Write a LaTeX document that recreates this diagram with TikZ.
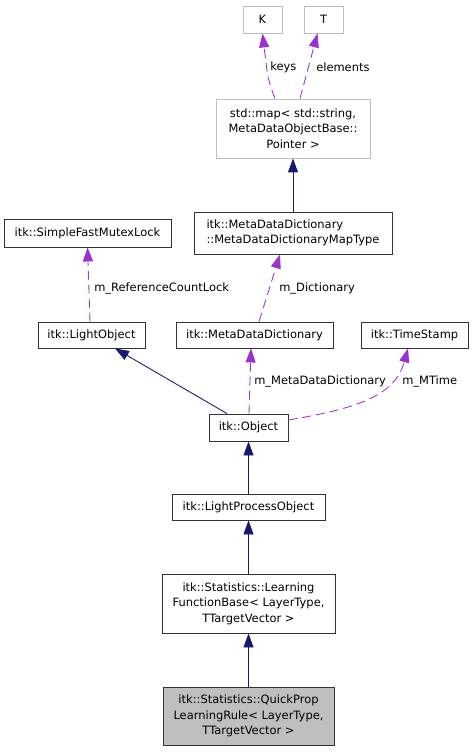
\documentclass[tikz,border=0pt]{standalone}
\usepackage{fontspec}
\setmainfont{DejaVu Sans}
\usepackage{xcolor}
\usepackage{tikz}
\usetikzlibrary{positioning,calc,arrows.meta}

\definecolor{edgeblue}{HTML}{191970}
\definecolor{edgepurple}{HTML}{9A32CD}
\definecolor{boxgray}{HTML}{BFBFBF}

\begin{document}
\begin{tikzpicture}[x=0.75pt,y=-0.75pt,
    font={\fontsize{8.6}{11.6}\selectfont},
    cls/.style={draw=black!80, fill=white, line width=0.65pt, inner sep=0pt, align=center},
    tmpl/.style={draw=boxgray, fill=white, line width=0.65pt, inner sep=0pt, align=center},
    inherit/.style={draw=edgeblue, line width=0.65pt, -{Triangle[length=10.5pt,width=7.5pt]}},
    usage/.style={draw=edgepurple, line width=0.65pt, dash pattern=on 6.75pt off 3.75pt, -{Triangle[length=10.5pt,width=7.5pt]}},
    elabel/.style={anchor=west, inner sep=0pt}]
    \useasboundingbox (0,0) rectangle (473,752);

    % Template arguments
    \node[tmpl, minimum width=29.25pt, minimum height=20.25pt] (K) at (262.5,19.5) {K};
    \node[tmpl, minimum width=29.25pt, minimum height=20.25pt] (T) at (323.5,19.5) {T};
    \node[tmpl, minimum width=115.5pt, minimum height=44.25pt] (map) at (293,128.5)
        {std::map< std::string,\\ MetaDataObjectBase::\\ Pointer >};

    % Second row
    \node[cls, minimum width=125.25pt, minimum height=21pt] (mutex) at (87.5,233) {itk::SimpleFastMutexLock};
    \node[cls, minimum width=148.5pt, minimum height=31.5pt, align=left] (maptype) at (293,233)
        {itk::MetaDataDictionary\\::MetaDataDictionaryMapType};

    % Third row
    \node[cls, minimum width=80.25pt, minimum height=19.5pt] (light) at (91.5,335) {itk::LightObject};
    \node[cls, minimum width=117.75pt, minimum height=19.5pt] (mdd) at (254.5,335) {itk::MetaDataDictionary};
    \node[cls, minimum width=80.25pt, minimum height=19.5pt] (stamp) at (414.5,335) {itk::TimeStamp};

    % Main chain
    \node[cls, minimum width=59.25pt, minimum height=20.25pt] (object) at (248.5,427.5) {itk::Object};
    \node[cls, minimum width=114.75pt, minimum height=19.5pt] (lpo) at (248.5,507) {itk::LightProcessObject};
    \node[cls, minimum width=129.75pt, minimum height=44.25pt] (lfb) at (248.5,603.5)
        {itk::Statistics::Learning\\FunctionBase< LayerType,\\ TTargetVector >};
    \node[cls, fill=boxgray, minimum width=128.25pt, minimum height=43.5pt] (qprop) at (248.5,716)
        {itk::Statistics::QuickProp\\LearningRule< LayerType,\\ TTargetVector >};

    % Usage edges
    \draw[usage] ($(map.north)+(-18,0)$) .. controls (268,80) .. (K.south);
    \node[elabel] (keyslbl) at (270,67) {keys};
    \draw[usage] ($(map.north)+(7,0)$) -- ($(T.south)+(-6,0)$);
    \node[elabel] (elemlbl) at (316,67) {elements};
    \draw[usage] ($(light.north)+(-1.5,0)$) -- (mutex.south);
    \node[elabel] (locklbl) at (94,288) {m\_ReferenceCountLock};
    \draw[usage] ($(mdd.north)+(4.5,0)$) -- ($(maptype.south)+(-13,0)$);
    \node[elabel] (dictlbl) at (279,288) {m\_Dictionary};
    \draw[usage] ($(object.north)+(0.5,0)$) -- ($(mdd.south)+(-3.5,0)$);
    \node[elabel] (mddlbl) at (254,381) {m\_MetaDataDictionary};
    \draw[usage] ($(object.east)+(0,-7.5)$) .. controls (360,408) and (395,395) .. ($(stamp.south)+(-6.5,0)$);
    \node[elabel] (timelbl) at (402,381) {m\_MTime};

    % Inheritance edges
    \draw[inherit] (maptype.north) -- (map.south);
    \draw[inherit] ($(object.north)+(-21.5,0)$) -- ($(light.south)+(23.5,0)$);
    \draw[inherit] (lpo.north) -- (object.south);
    \draw[inherit] (lfb.north) -- (lpo.south);
    \draw[inherit] (qprop.north) -- (lfb.south);
\end{tikzpicture}
\end{document}
